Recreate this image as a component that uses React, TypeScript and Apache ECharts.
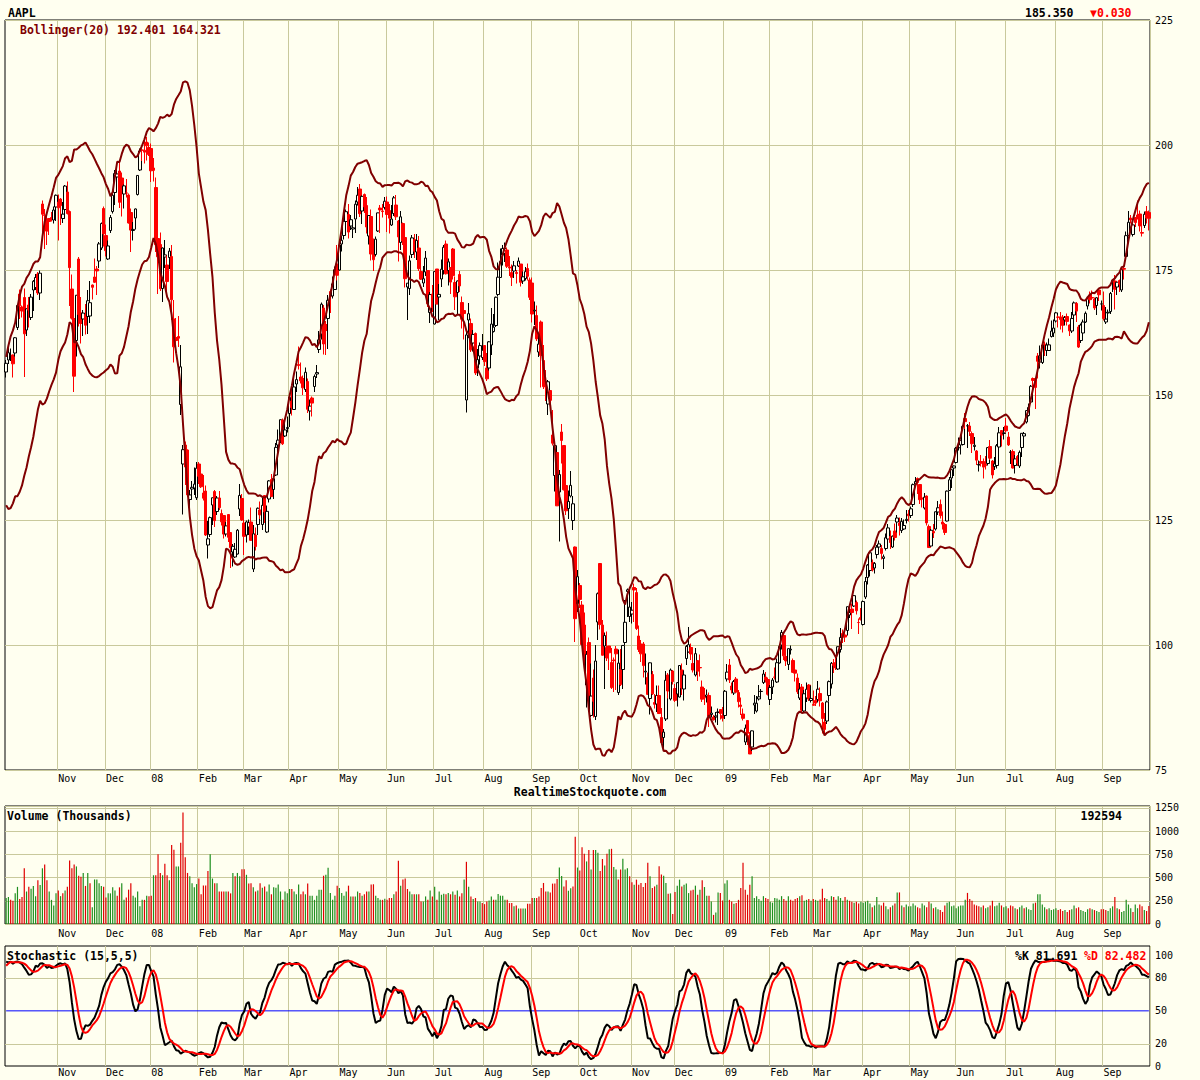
import React, { useEffect, useRef } from "react";
import * as echarts from "echarts";

// ---- Daily rows: [day, open, high, low, close, volume(100k)] ----
const oct07 = [
[1,154.6,157.0,153.5,156.34,280],[2,157.0,159.5,156.2,158.45,290],[3,157.8,159.3,156.8,157.92,260],[4,158.0,158.1,153.5,156.24,250],[5,158.4,161.6,157.7,161.45,330],
[8,163.5,167.9,163.0,167.91,400],[9,170.2,171.1,165.2,167.86,270],[10,167.6,167.9,165.5,166.79,290],[11,169.5,171.3,153.6,162.23,600],[12,163.0,167.3,161.8,167.25,350],
[15,168.0,169.6,163.5,166.98,400],[16,165.5,170.2,165.0,169.58,380],[17,171.0,173.0,166.8,172.75,410],[18,171.5,174.2,171.0,173.50,300],[19,174.2,174.6,170.0,170.42,470],
[22,170.4,174.9,169.0,174.36,420],[23,188.2,188.9,182.6,186.16,600],[24,186.0,187.2,179.2,185.93,640],[25,184.9,185.9,180.0,182.78,470],[26,185.3,185.4,182.0,184.70,350],
[29,185.5,186.6,184.7,185.09,260],[30,185.0,187.7,184.3,187.00,200],[31,187.6,190.1,184.8,189.95,330]];
const nov07 = [
[1,188.6,190.1,180.9,187.44,360],[2,189.2,189.4,184.0,187.87,300],[5,185.3,188.6,184.4,186.18,330],[6,187.1,192.0,185.3,191.79,360],[7,190.6,192.7,186.1,186.30,400],
[8,186.7,186.9,167.8,175.47,685],[9,171.2,174.1,165.1,165.37,600],[12,165.3,167.7,150.6,153.76,640],[13,160.9,170.0,157.7,169.96,620],[14,177.2,177.6,163.7,166.11,520],
[15,166.4,169.6,160.3,164.30,510],[16,165.2,167.0,161.8,166.39,550],[19,166.1,168.2,162.1,163.95,410],[20,165.7,171.0,162.2,168.85,550],[21,165.8,172.8,164.4,168.46,440],
[23,172.0,172.1,169.1,171.54,180],[26,173.6,177.3,172.4,172.54,480],[27,175.2,175.8,170.0,174.81,480],[28,176.8,180.6,175.4,180.22,440],[29,179.4,184.5,179.0,184.29,410],
[30,187.3,187.7,179.7,182.22,400]];
const dec07 = [
[3,181.9,184.1,177.7,178.86,285],[4,177.2,180.9,177.0,179.81,330],[5,182.9,186.0,182.4,185.50,330],[6,186.7,190.3,186.3,189.95,395],[7,190.5,195.0,188.0,194.30,360],
[10,193.6,195.5,191.1,194.21,305],[11,194.8,196.8,187.4,188.54,395],[12,193.4,194.5,185.7,190.86,440],[13,190.2,192.1,187.3,191.83,260],[14,190.4,193.2,189.5,190.39,285],
[17,190.0,190.3,184.3,184.40,370],[18,186.5,187.3,178.6,182.98,440],[19,182.9,184.6,180.9,183.12,305],[20,185.4,187.3,183.1,187.21,285],[21,190.1,193.9,189.9,193.91,350],
[24,195.0,199.3,194.8,198.80,190],[26,199.0,200.0,196.8,198.95,260],[27,198.95,201.4,196.3,198.57,260],[28,200.6,201.6,196.9,199.83,305],[31,199.5,200.5,197.8,198.08,300]];
const jan08 = [
[2,199.3,200.3,192.6,194.84,305],[3,195.4,197.4,192.7,194.93,525],[4,191.5,193.5,178.6,180.05,525],[7,181.3,183.6,170.2,177.64,750],[8,180.1,182.5,170.8,171.25,550],
[9,171.3,179.5,168.6,179.40,525],[10,177.6,181.0,175.4,178.02,650],[11,176.0,177.9,170.0,172.69,525],[14,177.5,179.4,175.2,178.78,470],[15,177.7,180.0,165.0,169.04,850],
[16,165.2,169.0,156.5,159.64,800],[17,161.5,165.4,158.4,160.89,620],[18,161.7,165.8,159.6,161.36,620],[22,148.1,160.0,146.0,155.64,875],[23,136.2,140.0,126.1,139.07,1200],
[24,140.0,140.7,132.0,135.60,720],[25,139.0,139.1,129.6,130.01,550],[28,129.1,131.0,126.5,130.01,515],[29,131.2,132.8,129.1,131.54,440],[30,131.4,135.5,130.0,132.18,395],
[31,129.45,136.6,129.0,135.36,430]];
const feb08 = [
[1,136.2,136.6,132.2,133.75,490],[4,134.2,135.9,131.4,131.65,320],[5,130.4,134.0,128.9,129.36,415],[6,130.8,131.9,121.8,122.00,415],[7,120.0,124.8,117.3,121.24,570],
[8,122.1,125.7,121.6,125.48,750],[11,128.0,129.5,124.0,129.45,490],[12,130.7,131.0,123.6,124.86,440],[13,126.7,129.8,126.0,129.40,440],[14,129.4,130.8,127.0,127.46,350],
[15,126.3,127.1,123.9,124.63,350],[19,125.9,126.0,121.3,122.18,350],[20,122.2,124.6,121.7,123.82,350],[21,126.1,126.2,120.6,121.54,350],[22,122.5,122.5,115.4,119.46,330],
[25,118.6,120.2,115.7,119.74,550],[26,117.6,120.4,117.4,119.15,515],[27,118.2,123.2,118.1,122.96,550],[28,127.2,132.2,125.8,129.91,515],[29,129.3,130.2,124.8,125.02,590]];
const mar08 = [
[3,124.4,126.0,118.0,121.73,590],[4,122.0,124.9,120.5,124.62,530],[5,123.6,125.1,122.0,124.49,435],[6,124.6,127.5,120.8,120.93,440],[7,115.2,124.0,114.6,122.25,395],
[10,122.0,123.5,118.9,119.69,350],[11,124.1,127.5,122.0,127.35,360],[12,127.0,128.7,125.2,126.03,440],[13,124.1,129.5,123.0,127.94,390],[14,129.9,130.0,124.4,126.61,405],
[17,122.6,127.9,122.4,126.73,350],[18,129.2,133.0,128.5,132.82,425],[19,133.1,134.2,129.7,129.67,320],[20,131.1,133.3,129.2,133.27,395],[24,134.0,140.4,133.8,139.53,390],
[25,140.0,143.1,137.3,140.98,425],[26,140.9,145.1,140.4,145.06,350],[27,145.0,145.3,140.0,140.25,260],[28,141.8,144.7,141.6,143.01,350],[31,143.3,145.7,142.5,143.50,330]];
const apr08 = [
[1,146.3,149.7,143.6,149.53,377],[2,148.8,151.2,145.9,147.49,377],[3,147.1,153.6,147.0,151.61,350],[4,152.2,154.7,150.6,153.08,320],[7,156.1,159.7,155.1,155.89,425],
[8,153.6,156.5,152.3,152.84,320],[9,153.3,153.9,150.0,151.44,350],[10,151.1,155.5,150.6,154.55,320],[11,152.7,153.3,146.4,147.14,435],[14,146.8,149.1,144.9,147.78,305],
[15,149.4,149.7,145.7,148.38,305],[16,151.7,154.1,150.6,153.70,260],[17,154.2,156.0,153.4,154.49,305],[18,159.1,162.8,158.4,161.04,370],[21,162.2,168.5,161.1,168.16,370],
[22,167.4,168.0,158.1,160.20,520],[23,164.1,164.8,158.0,162.89,530],[24,165.3,170.0,159.2,168.94,605],[25,170.7,171.1,166.4,169.73,333],[28,169.8,173.7,169.3,172.24,260],
[29,171.1,175.7,171.1,175.05,305],[30,176.2,180.0,172.9,173.95,413]];
const may08 = [
[1,175.0,180.0,174.9,180.00,388],[2,180.2,181.9,178.7,180.94,333],[5,181.9,185.3,181.1,184.73,305],[6,184.7,187.1,182.3,186.66,350],[7,186.1,188.2,181.3,182.59,413],
[8,183.8,186.0,183.0,185.06,297],[9,183.2,184.3,181.4,183.45,297],[12,185.2,188.9,182.4,188.16,297],[13,188.6,191.6,187.9,189.96,350],[14,191.2,192.2,185.6,186.26,333],
[15,186.8,189.9,184.2,189.73,305],[16,190.1,190.3,186.4,187.62,320],[19,187.9,189.6,182.3,183.60,350],[20,181.8,186.0,180.1,185.90,350],[21,185.7,187.1,176.9,178.19,425],
[22,179.3,181.3,174.8,177.05,428],[23,178.1,181.7,177.7,181.17,305],[27,182.8,186.4,182.6,186.43,280],[28,187.4,188.0,182.4,187.01,260],[29,186.8,188.2,185.5,186.69,260],
[30,187.5,189.6,187.1,188.75,272]];
const jun08 = [
[2,188.6,189.7,182.6,186.10,260],[3,186.9,188.2,182.3,185.37,280],[4,184.0,188.0,183.8,185.19,280],[5,186.3,189.8,185.8,189.43,320],[6,188.0,190.0,185.0,185.64,350],
[9,184.8,185.0,176.7,181.61,680],[10,180.5,186.8,179.0,185.64,413],[11,184.3,184.5,180.0,180.81,478],[12,181.5,182.6,171.5,173.26,490],[13,171.6,172.4,165.0,172.37,377],
[16,171.3,177.9,170.0,176.84,350],[17,178.1,182.0,177.4,181.43,320],[18,181.1,182.2,177.4,178.75,320],[19,178.6,182.2,177.0,180.90,320],[20,179.4,181.8,174.8,175.27,320],
[23,174.7,175.9,173.0,173.16,243],[24,172.4,175.8,171.6,173.25,243],[25,174.6,178.8,173.8,177.39,297],[26,174.9,175.0,167.6,168.26,260],[27,166.5,170.6,164.4,170.09,362],
[30,170.2,172.0,166.6,167.44,297]];
const jul08 = [
[1,164.2,174.7,164.1,174.68,400],[2,175.2,175.2,168.2,168.18,260],[3,169.6,172.2,165.0,170.12,350],[7,173.2,177.1,171.6,175.16,315],[8,174.9,180.0,174.1,179.55,326],
[9,180.2,180.9,174.1,174.25,320],[10,174.9,177.3,171.9,176.63,333],[11,175.5,175.5,170.2,172.58,320],[14,179.2,179.4,173.1,173.88,350],[15,172.5,173.7,167.0,169.64,315],
[16,170.5,172.9,166.0,172.81,362],[17,174.1,174.8,170.6,171.81,297],[18,168.5,169.7,163.3,165.15,330],[21,166.9,167.5,161.1,166.29,478],[22,149.0,162.8,146.5,162.02,670],
[23,165.0,168.4,161.4,166.26,400],[24,164.3,165.3,158.6,159.03,297],[25,160.4,163.0,158.7,162.12,268],[28,162.3,162.5,154.0,154.40,280],[29,155.4,159.2,153.8,157.08,243],
[30,157.8,160.5,156.1,159.88,243],[31,157.5,162.2,157.0,158.95,225]];
const aug08 = [
[1,159.9,160.0,155.8,156.66,214],[4,155.4,158.4,152.8,153.23,243],[5,155.4,160.8,154.9,160.64,253],[6,160.0,167.4,158.0,164.19,297],[7,162.7,166.2,162.5,163.57,260],
[8,163.9,169.7,163.6,169.55,260],[11,170.1,176.5,169.7,173.56,322],[12,173.5,179.3,173.5,176.73,305],[13,178.0,180.0,175.9,179.30,305],[14,178.3,180.5,176.6,179.32,260],
[15,179.0,179.5,175.4,175.74,260],[18,175.6,177.8,173.8,175.39,225],[19,174.5,176.1,171.8,173.53,225],[20,174.8,176.8,173.4,175.84,190],[21,174.5,175.0,172.3,174.29,200],
[22,175.8,177.5,175.6,176.79,167],[25,176.2,176.2,171.7,172.55,167],[26,172.8,174.7,172.2,173.64,167],[27,173.3,175.6,172.9,174.67,167],[28,175.3,176.3,172.9,173.74,217],
[29,173.0,173.5,169.0,169.53,217]];
const sep08 = [
[2,172.4,173.5,164.5,166.19,280],[3,166.8,168.7,164.0,166.96,280],[4,165.9,167.9,160.8,161.22,280],[5,158.6,162.4,157.6,160.18,297],[8,164.6,164.9,151.5,157.92,388],
[9,156.9,160.0,151.2,151.68,442],[10,152.3,155.0,148.8,151.61,350],[11,148.2,153.0,146.0,152.65,350],[12,150.9,150.9,146.5,148.94,340],[15,142.0,147.0,139.9,140.36,435],
[16,133.9,140.9,130.7,139.88,435],[17,138.5,138.5,127.8,127.83,485],[18,130.6,135.0,120.7,134.09,608],[19,142.6,144.2,136.3,140.91,518],[22,139.9,140.0,130.9,131.05,405],
[23,131.9,133.9,126.0,126.84,470],[24,127.3,130.9,125.2,128.71,358],[25,129.8,134.8,129.5,131.93,384],[26,124.9,129.8,123.0,128.24,405],[29,119.6,119.7,100.6,105.26,940],
[30,108.3,115.0,106.6,113.66,608]];
const oct08 = [
[1,111.9,112.4,107.4,109.12,576],[2,108.0,108.8,100.0,100.10,826],[3,104.0,106.5,96.0,97.07,757],[6,92.0,98.8,87.5,98.14,674],[7,100.5,101.5,88.95,89.16,797],
[8,85.9,96.3,85.6,89.79,587],[9,93.4,95.1,85.5,88.74,797],[10,85.7,100.0,85.0,96.80,797],[13,104.6,110.5,101.0,110.26,768],[14,116.3,116.4,103.1,104.08,570],
[15,104.0,105.0,97.9,97.95,700],[16,99.8,102.5,91.2,101.89,630],[17,99.5,102.7,96.8,97.40,757],[20,99.8,99.8,95.0,98.44,805],[21,96.5,99.4,91.2,91.49,810],
[22,97.0,97.5,90.6,96.87,615],[23,99.2,99.8,91.0,98.23,587],[24,90.5,99.1,90.0,96.38,478],[27,95.1,99.2,91.8,92.09,587],[28,95.1,99.9,91.2,99.91,702],
[29,100.5,109.0,100.0,104.55,587],[30,110.7,111.3,105.6,111.04,601],[31,105.7,111.3,104.6,107.59,514]];
const nov08 = [
[3,106.2,108.6,104.3,106.96,449],[4,111.5,112.3,104.6,110.99,424],[5,110.5,111.4,103.0,103.30,478],[6,101.8,103.9,98.6,99.10,424],[7,100.2,101.0,96.6,98.24,442],
[10,100.2,100.6,93.5,95.88,398],[11,94.6,98.3,92.1,94.77,442],[12,93.5,94.5,90.1,90.12,659],[13,89.3,96.5,86.1,96.44,514],[14,94.1,94.8,90.0,90.24,387],
[17,88.5,90.2,87.3,88.14,405],[18,88.2,91.9,86.6,89.91,424],[19,89.9,91.9,86.2,86.29,623],[20,85.5,87.4,80.1,80.49,532],[21,81.5,83.2,79.1,82.58,521],
[24,85.2,94.8,84.8,92.95,442],[25,94.0,94.4,89.3,90.80,326],[26,89.2,95.3,88.9,95.00,330],[28,94.8,95.0,92.1,92.67,109]];
const dec08 = [
[1,91.3,92.2,88.6,88.93,344],[2,90.2,92.6,87.7,92.47,413],[3,89.6,96.0,89.5,95.90,478],[4,95.0,96.3,90.0,91.41,405],[5,91.2,94.9,88.9,94.00,424],
[8,97.3,100.0,96.0,99.72,435],[9,98.6,103.6,98.5,100.06,333],[10,99.5,100.3,97.0,98.21,362],[11,96.3,99.5,94.5,95.00,370],[12,94.0,99.4,93.7,98.27,413],
[15,96.9,97.0,92.8,94.75,315],[16,95.5,98.1,93.7,95.43,370],[17,91.6,92.9,88.6,89.16,470],[18,89.8,91.4,88.0,89.43,398],[19,89.7,91.1,88.5,90.00,304],
[22,89.9,90.5,83.6,85.74,304],[23,86.1,87.7,85.5,86.38,243],[24,85.6,86.0,84.9,85.04,98],[26,85.6,86.6,84.5,85.81,123],[29,86.5,87.3,84.0,86.61,340],
[30,87.1,87.2,85.1,86.29,333],[31,85.9,87.6,84.7,85.35,253]];
const jan09 = [
[2,85.9,91.0,85.2,90.75,435],[5,93.2,96.2,92.7,94.58,470],[6,96.0,97.2,92.4,93.02,260],[7,91.8,92.5,90.3,91.01,243],[8,90.4,93.0,90.0,92.70,217],
[9,93.2,93.6,90.4,90.58,225],[12,90.5,91.0,87.5,88.66,260],[13,88.0,89.5,86.0,87.71,387],[14,86.2,87.3,84.9,85.33,659],[15,80.6,84.1,80.0,83.38,370],
[16,84.9,84.9,80.0,82.33,315],[20,81.9,82.6,78.2,78.20,424],[21,79.6,82.9,78.8,82.83,514],[22,88.0,90.0,86.2,88.36,279],[23,86.8,89.8,86.5,88.36,300],
[26,89.2,92.0,88.9,89.64,270],[27,90.7,91.2,89.5,90.73,250],[28,92.5,95.0,92.2,94.20,300],[29,93.6,94.6,92.5,93.00,280],[30,93.1,93.5,89.9,90.13,270]];
const feb09 = [
[2,89.1,92.0,88.0,91.51,240],[3,91.6,93.4,90.2,92.98,230],[4,93.6,95.5,93.1,93.55,280],[5,92.6,97.3,92.4,96.46,275],[6,96.4,100.0,96.3,99.72,260],
[9,100.0,103.0,99.1,102.51,300],[10,101.9,102.3,97.0,97.83,270],[11,97.7,98.3,95.8,96.82,250],[12,96.1,99.3,95.0,99.27,300],[13,99.0,99.9,98.1,99.16,260],
[17,96.9,97.3,94.4,94.53,250],[18,95.0,95.9,92.7,94.37,270],[19,93.4,94.3,90.2,90.64,280],[20,89.4,92.4,89.0,91.20,300],[23,91.6,92.2,86.5,86.95,310],
[24,86.8,91.0,86.5,90.25,250],[25,89.4,92.5,88.6,91.16,260],[26,92.0,92.2,88.8,89.19,270],[27,88.9,91.9,88.5,89.31,250]];
const mar09 = [
[2,88.1,90.9,87.9,87.94,270],[3,88.9,89.8,87.8,88.37,260],[4,89.1,92.8,88.5,91.17,250],[5,90.3,91.5,87.7,88.84,265],[6,88.4,88.6,82.3,85.30,380],
[9,84.6,86.4,82.0,83.11,280],[10,84.8,88.9,84.2,88.63,270],[11,89.9,92.9,88.7,92.68,250],[12,92.2,96.6,91.3,96.35,300],[13,96.3,97.2,94.4,95.93,290],
[16,96.5,97.4,95.0,95.42,260],[17,95.2,99.7,95.0,99.66,300],[18,99.1,103.4,98.5,101.52,280],[19,102.3,103.1,100.4,101.62,250],[20,102.0,103.4,100.6,101.59,290],
[23,102.9,107.7,101.9,107.66,260],[24,106.0,108.2,105.4,106.50,250],[25,107.2,108.3,103.2,106.49,240],[26,107.8,110.0,107.6,109.87,230],[27,108.5,108.9,106.1,106.85,240],
[30,104.5,105.3,102.2,104.49,220],[31,105.5,107.4,104.9,105.12,240]];
const apr09 = [
[1,104.1,108.9,103.9,108.69,230],[2,109.6,113.6,109.2,112.71,240],[3,113.5,116.2,112.1,115.99,250],[6,114.9,118.8,113.7,118.45,220],[7,116.5,117.1,114.7,115.00,180],
[8,115.4,116.6,114.3,116.32,200],[9,118.1,120.0,117.3,119.57,290],[13,119.6,120.9,118.2,120.22,210],[14,119.3,120.0,117.1,118.31,200],[15,117.3,118.1,115.2,117.64,230],
[16,119.3,122.3,118.9,121.45,190],[17,121.2,124.2,120.5,123.42,160],[20,121.7,122.9,119.2,120.50,180],[21,119.6,121.9,119.4,121.76,200],[22,122.8,124.3,120.9,121.51,220],
[23,124.6,126.0,122.5,125.40,340],[24,124.4,125.5,121.9,123.90,340],[27,122.9,125.4,122.4,124.73,200],[28,123.2,125.1,123.0,123.90,180],[29,124.9,127.0,124.3,125.14,210],
[30,126.2,127.0,124.7,125.83,190]];
const may09 = [
[1,125.9,127.7,125.4,127.24,190],[4,128.1,132.3,127.6,132.07,220],[5,132.2,133.6,131.6,132.71,200],[6,133.3,133.5,130.2,132.50,180],[7,132.1,132.2,128.2,129.06,170],
[8,129.4,130.9,127.5,129.19,220],[11,127.4,130.4,127.1,129.57,200],[12,129.8,129.9,123.9,124.42,180],[13,123.7,124.1,119.4,119.49,240],[14,119.8,123.2,119.7,122.95,220],
[15,122.7,124.2,121.4,122.42,170],[18,123.2,126.7,122.9,126.65,180],[19,126.6,128.8,126.0,127.45,160],[20,128.1,129.1,125.3,125.87,150],[21,124.6,126.7,123.1,124.18,130],
[22,124.1,124.4,122.0,122.50,200],[26,124.8,130.9,124.7,130.78,230],[27,130.9,133.6,130.8,133.05,240],[28,133.4,135.1,131.4,135.07,190],[29,135.4,135.9,133.8,135.81,200]];
const jun09 = [
[1,136.5,139.6,136.3,139.35,170],[2,139.4,141.5,138.9,139.49,190],[3,140.0,141.0,138.1,140.95,200],[4,140.1,144.0,139.9,143.74,200],[5,145.3,146.4,143.2,144.67,260],
[8,143.8,144.2,139.4,143.85,335],[9,143.8,144.6,141.8,142.72,270],[10,142.3,142.7,138.4,140.25,250],[11,139.7,141.6,138.9,139.95,210],[12,138.8,139.0,136.0,136.97,200],
[15,136.0,136.9,134.7,136.09,190],[16,136.7,138.0,135.7,136.35,180],[17,136.7,137.3,133.3,135.58,200],[18,136.1,137.8,135.1,135.88,170],[19,136.3,139.6,135.9,139.48,180],
[22,139.7,141.0,137.0,137.37,200],[23,136.8,137.0,133.3,134.01,250],[24,135.7,137.6,135.0,136.22,190],[25,135.9,140.2,135.3,139.86,200],[26,139.6,143.6,139.5,142.44,230],
[29,142.9,143.0,139.7,141.97,200],[30,142.3,143.6,141.1,142.43,180]];
const jul09 = [
[1,143.8,145.4,142.5,142.83,190],[2,141.6,142.6,139.8,140.02,170],[6,138.5,139.0,136.2,138.61,200],[7,138.7,139.1,135.3,135.40,190],[8,135.9,138.0,134.3,137.22,170],
[9,137.7,138.0,135.8,136.36,160],[10,135.8,138.9,135.4,138.52,180],[13,139.5,142.3,137.6,142.34,200],[14,141.8,142.6,140.8,142.27,170],[15,144.6,147.0,144.3,146.88,180],
[16,145.9,148.3,145.7,147.52,160],[17,148.6,152.0,148.2,151.75,150],[20,153.3,153.5,150.7,152.91,220],[21,153.3,153.3,147.2,151.51,230],[22,157.8,158.4,153.3,156.74,320],
[23,156.6,159.9,155.3,157.82,320],[24,156.5,160.1,156.2,159.99,210],[27,160.2,160.7,157.8,160.10,180],[28,158.9,160.5,157.8,160.00,160],[29,158.9,161.3,158.9,160.03,170],
[30,161.7,164.9,161.5,162.79,150],[31,162.4,165.1,161.6,163.39,160]];
const aug09 = [
[3,164.8,166.6,164.5,166.43,170],[4,165.6,165.9,163.5,165.55,150],[5,165.6,166.6,163.1,165.11,160],[6,165.6,166.0,162.5,163.91,140],[7,165.0,165.8,163.9,165.51,150],
[10,165.7,166.3,163.9,164.72,130],[11,164.0,164.1,161.8,162.83,150],[12,162.8,166.6,162.4,165.31,160],[13,166.0,168.7,165.1,168.42,200],[14,168.3,168.6,164.6,166.78,170],
[17,163.6,164.0,159.4,159.59,180],[18,160.9,164.3,160.4,164.00,150],[19,162.4,165.1,162.0,164.60,140],[20,164.6,166.7,164.4,166.33,130],[21,167.8,169.3,167.1,169.22,160],
[24,170.0,170.7,168.3,169.06,170],[25,169.5,170.9,169.1,169.40,160],[26,169.2,169.5,167.0,167.41,150],[27,167.9,169.6,166.0,169.45,140],[28,171.0,171.3,168.8,170.05,130],
[31,168.2,168.9,166.9,168.21,160]];
const sep09 = [
[1,167.9,170.7,164.9,165.30,160],[2,164.6,167.6,164.2,165.18,150],[3,166.4,167.1,165.0,166.55,140],[4,166.7,170.6,166.2,170.31,170],[8,172.9,173.1,170.6,172.93,190],
[9,172.8,174.0,167.1,171.14,290],[10,171.6,172.6,170.0,172.56,170],[11,172.9,173.1,170.6,172.16,160],[14,171.0,175.4,170.6,175.16,130],[15,175.3,175.9,173.1,175.16,140],
[16,177.7,182.7,177.5,181.87,260],[17,181.9,186.8,181.8,184.55,210],[18,185.4,186.0,184.3,185.02,170],[21,182.1,184.5,181.7,184.02,130],[22,185.5,185.5,183.6,184.48,210],
[23,186.0,188.9,185.1,185.50,170],[24,186.2,186.9,182.7,183.82,210],[25,182.5,185.5,181.7,182.37,190],[28,183.9,186.7,183.4,186.15,150],[29,186.7,187.8,184.3,185.38,140],
[30,186.5,186.9,182.9,185.35,193]];

// Prior days (Aug 29 - Sep 28, 2007) needed by the Bollinger(20) and Stochastic(15,5,5) windows: [open, high, low, close]
const warmup = [
[133.0,134.5,131.5,134.08],[132.7,137.0,132.5,136.25],[139.5,139.7,136.5,138.48],[139.9,145.0,139.5,144.16],[144.9,145.8,136.1,136.76],
[137.9,137.9,132.7,135.01],[132.0,133.7,130.5,131.77],[136.9,138.0,132.0,136.71],[137.9,138.3,133.8,135.49],[135.9,137.9,135.6,136.85],
[138.8,139.0,136.6,137.20],[136.6,138.9,136.5,138.81],[138.1,138.3,136.8,138.41],[139.1,141.0,136.3,140.92],[143.0,143.5,140.0,140.77],
[140.2,141.8,139.3,140.31],[141.1,144.7,141.0,144.15],[146.7,149.0,144.9,148.28],[146.8,153.2,146.2,153.18],[154.5,155.5,151.3,152.77],
[153.8,154.5,152.3,154.50],[153.4,154.6,152.8,153.47]];

const monthTable: [number, number, number[][]][] = [
  [2007,10,oct07],[2007,11,nov07],[2007,12,dec07],
  [2008,1,jan08],[2008,2,feb08],[2008,3,mar08],[2008,4,apr08],[2008,5,may08],[2008,6,jun08],
  [2008,7,jul08],[2008,8,aug08],[2008,9,sep08],[2008,10,oct08],[2008,11,nov08],[2008,12,dec08],
  [2009,1,jan09],[2009,2,feb09],[2009,3,mar09],[2009,4,apr09],[2009,5,may09],[2009,6,jun09],
  [2009,7,jul09],[2009,8,aug09],[2009,9,sep09],
];

const MONTH_NAMES = ["Jan","Feb","Mar","Apr","May","Jun","Jul","Aug","Sep","Oct","Nov","Dec"];
const PRICE_TICKS = { min: 75, max: 225, step: 25 };
const VOLUME_TICKS = [0, 250, 500, 750, 1000, 1250];
const STOCH_TICKS = [0, 20, 50, 80, 100];
const STOCH_GRID_LEVELS = [20, 80];
const STOCH_MID_LEVEL = 50;

const headerTicker = "AAPL";
const headerLast = "185.350";
const headerChange = "\u25BC0.030";
const bollLabel = "Bollinger(20) 192.401 164.321";
const volLabel = "Volume (Thousands)";
const volLast = "192594";
const stochLabel = "Stochastic (15,5,5)";
const kLabel = "%K 81.691";
const dLabel = "%D 82.482";
const siteLabel = "RealtimeStockquote.com";

const BG = "#FFFFF0";
const GRID = "#C9C99C";
const MONO = "'DejaVu Sans Mono', 'Liberation Mono', monospace";
const PLOT_LEFT = 5;
const PLOT_WIDTH = 1145;

function pad(n: number) { return n < 10 ? "0" + n : "" + n; }

function build() {
  const dates: string[] = [];
  const rows: number[][] = [];
  monthTable.forEach(([y, m, list]) => {
    list.forEach((r) => {
      dates.push(`${y}-${pad(m)}-${pad(r[0])}`);
      rows.push(r);
    });
  });
  const W = warmup.length;
  const H = [...warmup.map((r) => r[1]), ...rows.map((r) => r[2])];
  const L = [...warmup.map((r) => r[2]), ...rows.map((r) => r[3])];
  const C = [...warmup.map((r) => r[3]), ...rows.map((r) => r[4])];
  const n = C.length;
  const upper: (number | null)[] = [];
  const lower: (number | null)[] = [];
  const fastK: (number | null)[] = new Array(n).fill(null);
  const slowK: (number | null)[] = new Array(n).fill(null);
  const dLine: (number | null)[] = new Array(n).fill(null);
  for (let i = 0; i < n; i++) {
    if (i >= 14) {
      let hh = -Infinity, ll = Infinity;
      for (let j = i - 14; j <= i; j++) { hh = Math.max(hh, H[j]); ll = Math.min(ll, L[j]); }
      fastK[i] = hh > ll ? ((C[i] - ll) / (hh - ll)) * 100 : 50;
    }
    if (i >= 18) {
      let s = 0; for (let j = i - 4; j <= i; j++) s += fastK[j] as number;
      slowK[i] = s / 5;
    }
    if (i >= 22) {
      let s = 0; for (let j = i - 4; j <= i; j++) s += slowK[j] as number;
      dLine[i] = s / 5;
    }
  }
  for (let i = W; i < n; i++) {
    let s = 0; for (let j = i - 19; j <= i; j++) s += C[j];
    const mean = s / 20;
    let v = 0; for (let j = i - 19; j <= i; j++) v += (C[j] - mean) ** 2;
    const sd = Math.sqrt(v / 20);
    upper.push(+(mean + 2 * sd).toFixed(3));
    lower.push(+(mean - 2 * sd).toFixed(3));
  }
  const candles = rows.map((r) => [r[1], r[4], r[3], r[2]]);
  const volumes = rows.map((r, i) => {
    const prev = C[W + i - 1];
    return { value: r[5], itemStyle: { color: r[4] >= prev ? "#1F8F1F" : "#E00000" } };
  });
  const kOut = slowK.slice(W).map((v) => (v == null ? null : +v.toFixed(3)));
  const dOut = dLine.slice(W).map((v) => (v == null ? null : +v.toFixed(3)));
  const monthStart = new Set<number>();
  for (let i = 1; i < dates.length; i++) {
    if (dates[i].slice(5, 7) !== dates[i - 1].slice(5, 7)) monthStart.add(i);
  }
  return { dates, candles, volumes, upper, lower, kOut, dOut, monthStart };
}

const txt = (id: string, x: number, y: number, text: string, color: string, align = "left", size = 11.5) => ({
  id,
  type: "text",
  x,
  y,
  style: {
    text,
    fill: color,
    font: `bold ${size}px ${MONO}`,
    textAlign: align,
    textVerticalAlign: "middle",
  },
  z: 100,
});

const textElements = () => [
  txt("t1", 8, 12.5, headerTicker, "#000"),
  txt("t2", 1025, 12.5, headerLast, "#000"),
  txt("t3", 1090, 12.5, headerChange, "#FF0000"),
  txt("t4", 20, 30, bollLabel, "#800000"),
  txt("t5", 590, 792, siteLabel, "#000", "center"),
  txt("t6", 7, 816, volLabel, "#000"),
  txt("t7", 1122, 816, volLast, "#000", "right"),
  txt("t8", 7, 956, stochLabel, "#000"),
  txt("t9", 1015, 956, kLabel, "#000"),
  txt("t10", 1084, 956, dLabel, "#FF0000"),
];

function makeOption() {
  const d = build();
  const isStart = (idx: number) => d.monthStart.has(idx);
  const fmtMonth = (v: string) => {
    const m = parseInt(v.slice(5, 7), 10);
    return m === 1 ? v.slice(2, 4) : MONTH_NAMES[m - 1];
  };
  const xAxisBase = (gridIndex: number, margin: number) => ({
    type: "category",
    gridIndex,
    data: d.dates,
    boundaryGap: true,
    axisLine: { show: false },
    axisTick: { show: false },
    axisLabel: {
      interval: isStart,
      formatter: fmtMonth,
      align: "left",
      margin,
      fontFamily: MONO,
      fontSize: 10,
      color: "#000",
    },
    splitLine: { show: true, interval: isStart, lineStyle: { color: GRID, width: 1 } },
  });
  const yLabel = {
    fontFamily: MONO,
    fontSize: 10,
    color: "#000",
    margin: 5,
  };
  const first = d.dates[0];
  const last = d.dates[d.dates.length - 1];
  return {
    animation: false,
    backgroundColor: BG,
    grid: [
      { left: PLOT_LEFT, top: 20, width: PLOT_WIDTH, height: 750, show: true, borderColor: "#000", borderWidth: 1, backgroundColor: BG },
      { left: PLOT_LEFT, top: 806, width: PLOT_WIDTH, height: 118, show: true, borderColor: "#000", borderWidth: 1, backgroundColor: BG },
      { left: PLOT_LEFT, top: 946, width: PLOT_WIDTH, height: 120, show: true, borderColor: "#000", borderWidth: 1, backgroundColor: BG },
    ],
    xAxis: [xAxisBase(0, 3), xAxisBase(1, 4), xAxisBase(2, 1)],
    yAxis: [
      {
        type: "value", gridIndex: 0, position: "right", min: PRICE_TICKS.min, max: PRICE_TICKS.max, interval: PRICE_TICKS.step,
        axisLine: { show: false }, axisTick: { show: false }, axisLabel: yLabel,
        splitLine: { show: true, lineStyle: { color: GRID, width: 1 } },
      },
      {
        type: "value", gridIndex: 1, position: "right", min: 0, max: 1271, interval: 250,
        axisLine: { show: false }, axisTick: { show: false },
        axisLabel: { ...yLabel, formatter: (v: number) => (VOLUME_TICKS.includes(v) ? String(v) : "") },
        splitLine: { show: true, lineStyle: { color: GRID, width: 1 } },
      },
      {
        type: "value", gridIndex: 2, position: "right", min: 0, max: 108.8, interval: 10,
        axisLine: { show: false }, axisTick: { show: false },
        axisLabel: { ...yLabel, formatter: (v: number) => (STOCH_TICKS.includes(v) ? String(v) : "") },
        splitLine: { show: false },
      },
    ],
    series: [
      {
        type: "candlestick",
        xAxisIndex: 0, yAxisIndex: 0,
        data: d.candles,
        barWidth: 3,
        itemStyle: { color: BG, color0: "#FF0000", borderColor: "#000000", borderColor0: "#FF0000", borderWidth: 1 },
        z: 3,
      },
      {
        type: "line", name: "upper", xAxisIndex: 0, yAxisIndex: 0, data: d.upper,
        showSymbol: false, lineStyle: { color: "#800000", width: 2 }, z: 4,
      },
      {
        type: "line", name: "lower", xAxisIndex: 0, yAxisIndex: 0, data: d.lower,
        showSymbol: false, lineStyle: { color: "#800000", width: 2 }, z: 4,
      },
      {
        type: "bar", xAxisIndex: 1, yAxisIndex: 1, data: d.volumes, barWidth: 1.2,
      },
      {
        type: "line", name: "mid", xAxisIndex: 2, yAxisIndex: 2,
        data: [[first, STOCH_MID_LEVEL], [last, STOCH_MID_LEVEL]],
        showSymbol: false, silent: true, lineStyle: { color: "#0000FF", width: 1 }, z: 2,
      },
      {
        type: "line", name: "%K", xAxisIndex: 2, yAxisIndex: 2, data: d.kOut,
        showSymbol: false, lineStyle: { color: "#000000", width: 2 }, z: 5,
      },
      {
        type: "line", name: "%D", xAxisIndex: 2, yAxisIndex: 2, data: d.dOut,
        showSymbol: false, lineStyle: { color: "#FF0000", width: 2 }, z: 6,
      },
    ],
    graphic: { elements: textElements() },
  };
}

export default function App() {
  const ref = useRef<HTMLDivElement>(null);
  useEffect(() => {
    if (!ref.current) return;
    const chart = echarts.init(ref.current, null, { renderer: "svg" });
    chart.setOption(makeOption() as any);
    // tan level lines of the stochastic panel, placed through the panel's own y scale
    const lines = STOCH_GRID_LEVELS.map((v, i) => {
      const y = Math.round(chart.convertToPixel({ yAxisIndex: 2 } as any, v) as number) + 0.5;
      return {
        id: "lv" + i,
        type: "line",
        shape: { x1: PLOT_LEFT, y1: y, x2: PLOT_LEFT + PLOT_WIDTH, y2: y },
        style: { stroke: GRID, lineWidth: 1 },
        silent: true,
        z: 1,
      };
    });
    chart.setOption({ graphic: { elements: [...textElements(), ...lines] } } as any);
    return () => chart.dispose();
  }, []);
  return (
    <div
      ref={ref}
      style={{ position: "absolute", left: 0, top: 0, width: 1200, height: 1080, background: BG }}
    />
  );
}
